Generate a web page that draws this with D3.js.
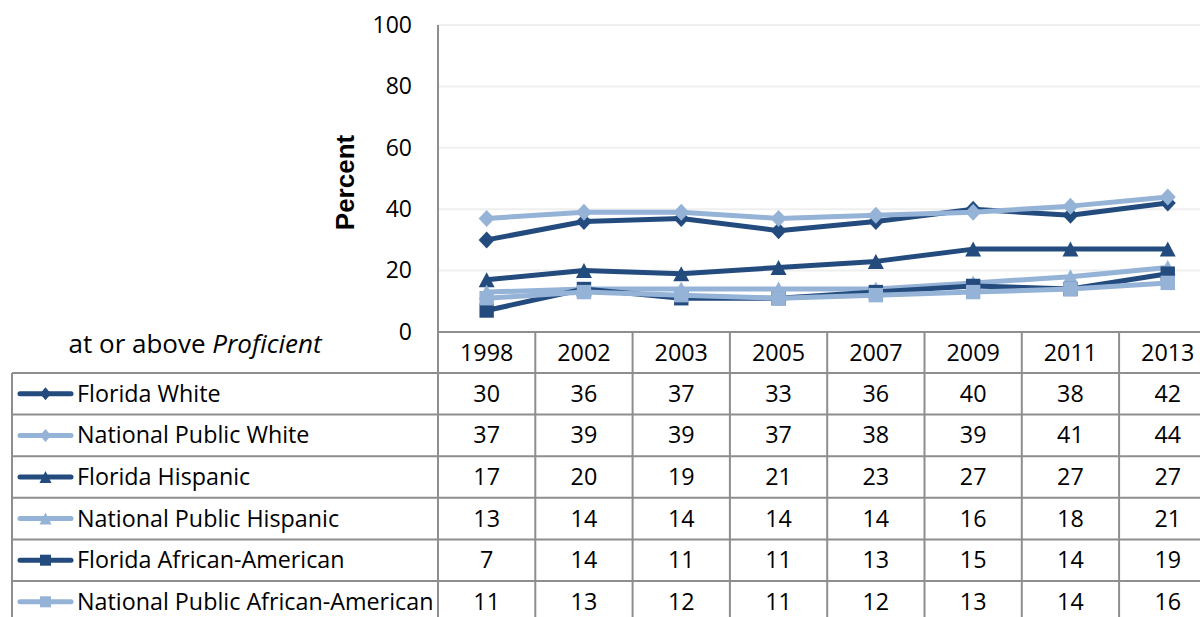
<!DOCTYPE html>
<html>
<head>
<meta charset="utf-8">
<script src="https://cdn.jsdelivr.net/npm/d3@7"></script>
<style>
  html, body { margin: 0; padding: 0; background: #fff; }
  svg { display: block; }
  text { font-family: "Open Sans", "Noto Sans", sans-serif; fill: #000; }
</style>
</head>
<body>
<svg id="chart" width="1200" height="617"></svg>
<script>
// Years on the category axis
const years = ["1998", "2002", "2003", "2005", "2007", "2009", "2011", "2013"];

// Percent at or above Proficient, one array per group
const floridaWhite = [30, 36, 37, 33, 36, 40, 38, 42];
const nationalWhite = [37, 39, 39, 37, 38, 39, 41, 44];
const floridaHispanic = [17, 20, 19, 21, 23, 27, 27, 27];
const nationalHispanic = [13, 14, 14, 14, 14, 16, 18, 21];
const floridaAfrican = [7, 14, 11, 11, 13, 15, 14, 19];
const nationalAfrican = [11, 13, 12, 11, 12, 13, 14, 16];

const seriesNames = [
  "Florida White", "National Public White", "Florida Hispanic",
  "National Public Hispanic", "Florida African-American", "National Public African-American"
];
const yTicks = [0, 20, 40, 60, 80, 100];

const dark = "#234b7e";
const light = "#95b3d7";
const series = [
  { name: seriesNames[0], values: floridaWhite, color: dark, marker: "diamond" },
  { name: seriesNames[1], values: nationalWhite, color: light, marker: "diamond" },
  { name: seriesNames[2], values: floridaHispanic, color: dark, marker: "triangle" },
  { name: seriesNames[3], values: nationalHispanic, color: light, marker: "triangle" },
  { name: seriesNames[4], values: floridaAfrican, color: dark, marker: "square" },
  { name: seriesNames[5], values: nationalAfrican, color: light, marker: "square" }
];

const svg = d3.select("#chart");

const plotLeft = 438, colW = 97.3;
const plotTop = 25, plotBottom = 332;
const rowH = 41.6, tableTop = 373, tableLeft = 12;
const fs = "23.3px";

const x = d3.scaleBand().domain(years).range([plotLeft, plotLeft + colW * years.length]);
const y = d3.scaleLinear().domain([0, 100]).range([plotBottom, plotTop]);

const gridColor = "#efefef";
const lineColor = "#8e8e8e";

// Horizontal gridlines
svg.append("g").selectAll("line").data(yTicks.filter(t => t > 0)).join("line")
  .attr("x1", plotLeft).attr("x2", 1200)
  .attr("y1", d => y(d)).attr("y2", d => y(d))
  .attr("stroke", gridColor).attr("stroke-width", 2);

// Y axis labels
const yAxis = d3.axisLeft(y).tickValues(yTicks).tickSize(0).tickPadding(26);
const yg = svg.append("g").attr("transform", `translate(${plotLeft},0)`).call(yAxis);
yg.select(".domain").remove();
yg.selectAll("text").style("font-family", "'Open Sans', sans-serif")
  .style("font-size", "23px").attr("fill", "#000");

// Axis title
svg.append("text")
  .attr("transform", `translate(354,${(plotTop + plotBottom) / 2 + 4}) rotate(-90)`)
  .attr("text-anchor", "middle")
  .style("font-family", "'Liberation Sans', Arial, sans-serif")
  .style("font-size", "26px").style("font-weight", "bold")
  .text("Percent");

// Y axis line
svg.append("line").attr("x1", plotLeft).attr("x2", plotLeft)
  .attr("y1", plotTop).attr("y2", plotBottom + 1)
  .attr("stroke", lineColor).attr("stroke-width", 2);

// Data table: grid lines
const nRows = series.length;
const tg = svg.append("g");
// horizontal: x axis line + row separators
tg.append("line").attr("x1", plotLeft).attr("x2", 1200)
  .attr("y1", plotBottom).attr("y2", plotBottom)
  .attr("stroke", lineColor).attr("stroke-width", 2);
tg.selectAll("line.row").data(d3.range(nRows + 1)).join("line").attr("class", "row")
  .attr("x1", tableLeft).attr("x2", 1200)
  .attr("y1", i => tableTop + i * rowH).attr("y2", i => tableTop + i * rowH)
  .attr("stroke", lineColor).attr("stroke-width", 2);
// vertical: category boundaries
tg.selectAll("line.col").data(years.concat(["end"])).join("line").attr("class", "col")
  .attr("x1", (d, i) => plotLeft + i * colW).attr("x2", (d, i) => plotLeft + i * colW)
  .attr("y1", plotBottom).attr("y2", 617)
  .attr("stroke", lineColor).attr("stroke-width", 2);
tg.append("line").attr("x1", tableLeft).attr("x2", tableLeft)
  .attr("y1", tableTop).attr("y2", 617)
  .attr("stroke", lineColor).attr("stroke-width", 2);

// Year headers
svg.append("g").selectAll("text").data(years).join("text")
  .attr("x", d => x(d) + x.bandwidth() / 2)
  .attr("y", plotBottom + rowH / 2 + 8)
  .attr("text-anchor", "middle")
  .style("font-size", fs)
  .text(d => d);

// Caption over the legend column
const cap = svg.append("text").attr("x", 195).attr("y", 353)
  .attr("text-anchor", "middle").style("font-size", "26px");
cap.append("tspan").text("at or above ");
cap.append("tspan").style("font-style", "italic").text("Proficient");

// Marker shapes (half-width w, half-height h)
function markerPath(kind, w, h) {
  const p = d3.path();
  if (kind === "diamond") {
    p.moveTo(0, -h); p.lineTo(w, 0); p.lineTo(0, h); p.lineTo(-w, 0);
  } else if (kind === "triangle") {
    p.moveTo(0, -h); p.lineTo(w, h); p.lineTo(-w, h);
  } else {
    p.rect(-w, -h, 2 * w, 2 * h);
  }
  p.closePath();
  return p.toString();
}
const plotMarker = { diamond: [8, 8.5], triangle: [8, 7.5], square: [7.2, 7.2] };
const keyMarker = { diamond: [5.5, 6.5], triangle: [6, 6], square: [5.5, 5.5] };

// Lines and markers
const line = d3.line().x((d, i) => x(years[i]) + x.bandwidth() / 2).y(d => y(d));
const lg = svg.append("g");
series.forEach(s => {
  const g = lg.append("g");
  g.append("path").datum(s.values).attr("d", line)
    .attr("fill", "none").attr("stroke", s.color).attr("stroke-width", 5)
    .attr("stroke-linejoin", "round").attr("stroke-linecap", "round");
  g.selectAll("path.m").data(s.values).join("path").attr("class", "m")
    .attr("transform", (d, i) => `translate(${x(years[i]) + x.bandwidth() / 2},${y(d)})`)
    .attr("d", markerPath(s.marker, ...plotMarker[s.marker]))
    .attr("fill", s.color);
});

// Table rows: legend keys and values
series.forEach((s, r) => {
  const cy = tableTop + r * rowH + rowH / 2;
  const g = svg.append("g");
  g.append("line").attr("x1", 20).attr("x2", 71).attr("y1", cy).attr("y2", cy)
    .attr("stroke", s.color).attr("stroke-width", 5).attr("stroke-linecap", "round");
  g.append("path").attr("transform", `translate(45.5,${cy})`)
    .attr("d", markerPath(s.marker, ...keyMarker[s.marker])).attr("fill", s.color);
  g.append("text").attr("x", 77).attr("y", cy + 8).style("font-size", fs).text(s.name);
  g.selectAll("text.v").data(s.values).join("text").attr("class", "v")
    .attr("x", (d, i) => x(years[i]) + x.bandwidth() / 2)
    .attr("y", cy + 8).attr("text-anchor", "middle").style("font-size", fs)
    .text(d => d);
});
</script>
</body>
</html>
